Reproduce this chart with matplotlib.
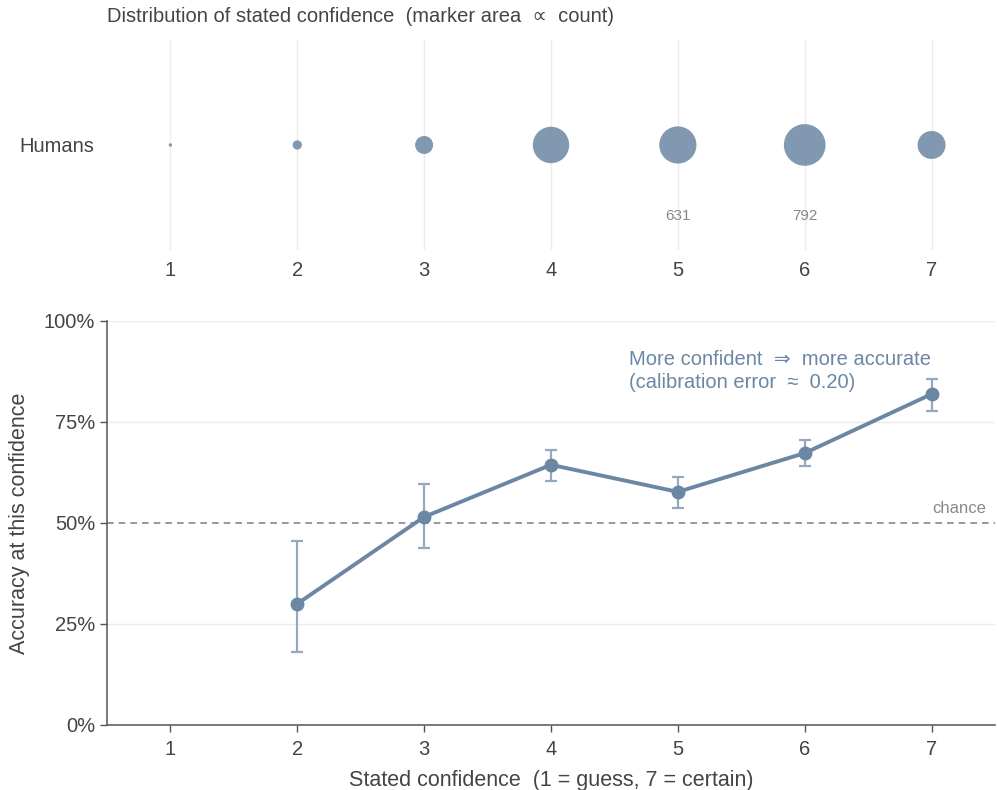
import numpy as np
import matplotlib
matplotlib.use("Agg")
import matplotlib.pyplot as plt
from matplotlib.ticker import FuncFormatter

plt.rcParams['font.family'] = ['Liberation Sans', 'DejaVu Sans']

confidence = [1, 2, 3, 4, 5, 6, 7]
counts = [5, 39, 148, 605, 631, 792, 357]
accuracy = [np.nan, 0.30, 0.515, 0.644, 0.577, 0.673, 0.819]
err_low = [np.nan, 0.181, 0.438, 0.604, 0.537, 0.641, 0.777]
err_high = [np.nan, 0.455, 0.597, 0.681, 0.614, 0.705, 0.856]
labelled_counts = [631, 792]
row_label = "Humans"

COL = '#6b87a3'
ERRCOL = '#93a9bf'
TXT = '#444444'
GRID = '#ebebeb'

fig = plt.figure(figsize=(9.97, 7.9), dpi=100)

# ---- top bubble panel ----
ax1 = fig.add_axes([0.1073, 0.684, 0.8907, 0.265])
ax1.set_xlim(0.5, 7.5)
ax1.set_ylim(-1, 1)
for x in confidence:
    ax1.axvline(x, color=GRID, lw=1, zorder=0)
sizes = [c * 900 / 792 for c in counts]
ax1.scatter(confidence, [0] * len(confidence), s=sizes, color=COL, alpha=0.85,
            edgecolors='none', zorder=3)
for x, c in zip(confidence, counts):
    if c in labelled_counts:
        ax1.text(x, -0.68, str(c), ha='center', va='center', color='#888888', fontsize=11)
ax1.set_xticks(confidence)
ax1.set_xticklabels([str(c) for c in confidence])
ax1.set_yticks([0])
ax1.set_yticklabels([row_label])
ax1.tick_params(axis='both', length=0, labelsize=14.5, colors=TXT)
ax1.tick_params(axis='x', pad=8)
ax1.tick_params(axis='y', pad=9)
for s in ax1.spines.values():
    s.set_visible(False)
fig.text(0.1073, 1 - 16 / 790, "Distribution of stated confidence  (marker area  \u221d  count)",
         ha='left', va='center', fontsize=14.5, color=TXT)

# ---- bottom calibration panel ----
ax2 = fig.add_axes([0.1073, 0.0823, 0.8907, 0.5114])
ax2.set_xlim(0.5, 7.5)
ax2.set_ylim(0, 1)
for y in [0.25, 0.75, 1.0]:
    ax2.axhline(y, color=GRID, lw=1, zorder=0)
ax2.axhline(0.5, color='#888888', lw=1.2, ls=(0, (4, 3)), zorder=1)
ax2.text(7.43, 0.537, "chance", ha='right', va='center', color='#888888', fontsize=12)

acc = np.array(accuracy)
lo = acc - np.array(err_low)
hi = np.array(err_high) - acc
ax2.errorbar(confidence, acc, yerr=[lo, hi], fmt='none', ecolor=ERRCOL, elinewidth=1.6,
             capsize=4.5, capthick=1.6, zorder=2)
ax2.plot(confidence, acc, color=COL, lw=2.8, marker='o', markersize=9, zorder=3)

ax2.text(4.615, 0.877, "More confident  \u21d2  more accurate\n(calibration error  \u2248  0.20)",
         ha='left', va='center', color=COL, fontsize=14.5, linespacing=1.25)

ax2.set_xticks(confidence)
ax2.set_yticks([0, 0.25, 0.5, 0.75, 1.0])
ax2.yaxis.set_major_formatter(FuncFormatter(lambda v, p: f"{int(round(v*100))}%"))
ax2.tick_params(axis='both', labelsize=14.5, colors=TXT, length=5, width=1, color='#555555')
ax2.tick_params(axis='x', pad=6)
ax2.spines['top'].set_visible(False)
ax2.spines['right'].set_visible(False)
for s in ['left', 'bottom']:
    ax2.spines[s].set_color('#555555')
    ax2.spines[s].set_linewidth(1.1)
ax2.set_xlabel("Stated confidence  (1 = guess, 7 = certain)", fontsize=15.5, color=TXT, labelpad=8)
ax2.set_ylabel("Accuracy at this confidence", fontsize=15.5, color=TXT, labelpad=10)

fig.savefig("out.png", dpi=100)
